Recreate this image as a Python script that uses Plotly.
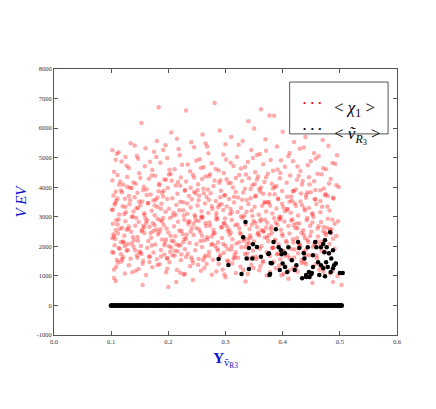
import plotly.graph_objects as go

# <chi_1> : red cloud
red_x = [
    0.183, 0.153, 0.231, 0.281, 0.340, 0.377, 0.385, 0.362,
    0.205, 0.215, 0.26, 0.29, 0.31, 0.33, 0.35, 0.37, 0.40, 0.42, 0.44, 0.47, 0.24, 0.18,
    0.102, 0.134, 0.11, 0.145, 0.16, 0.175, 0.195, 0.22, 0.245, 0.27, 0.30, 0.32, 0.345, 0.36, 0.39,
    0.41, 0.43, 0.455, 0.48, 0.495, 0.125, 0.265,
    0.105, 0.118, 0.131, 0.147, 0.159, 0.172, 0.186, 0.198, 0.211, 0.224, 0.238, 0.249, 0.262, 0.276,
    0.288, 0.301, 0.314, 0.327, 0.339, 0.352, 0.366, 0.379, 0.391, 0.404, 0.418, 0.431, 0.444, 0.458,
    0.471, 0.487,
    0.102, 0.111, 0.121, 0.128, 0.139, 0.149, 0.157, 0.166, 0.177, 0.184, 0.193, 0.204, 0.213, 0.222,
    0.231, 0.243, 0.252, 0.259, 0.271, 0.279, 0.291, 0.297, 0.309, 0.318, 0.329, 0.336, 0.347, 0.357,
    0.368, 0.374, 0.386, 0.395, 0.407, 0.413, 0.425, 0.434, 0.446, 0.455, 0.468, 0.481,
    0.104, 0.109, 0.117, 0.124, 0.133, 0.141, 0.146, 0.154, 0.162, 0.169, 0.178, 0.183, 0.191, 0.199,
    0.207, 0.216, 0.221, 0.229, 0.236, 0.245, 0.253, 0.261, 0.267, 0.274, 0.283, 0.292, 0.299, 0.306,
    0.313, 0.322, 0.331, 0.337, 0.344, 0.353, 0.361, 0.369, 0.377, 0.383, 0.392, 0.399, 0.408, 0.416,
    0.423, 0.432, 0.441, 0.449, 0.457, 0.466, 0.474, 0.489,
    0.101, 0.107, 0.114, 0.12, 0.126, 0.132, 0.138, 0.144, 0.151, 0.158, 0.164, 0.171, 0.176, 0.181,
    0.188, 0.195, 0.201, 0.208, 0.214, 0.219, 0.226, 0.233, 0.239, 0.246, 0.251, 0.258, 0.264, 0.27,
    0.277, 0.284, 0.289, 0.296, 0.302, 0.308, 0.315, 0.321, 0.327, 0.333, 0.34, 0.346, 0.351, 0.358,
    0.364, 0.371, 0.376, 0.382, 0.389, 0.394, 0.401, 0.408, 0.414, 0.421, 0.427, 0.434, 0.439, 0.446,
    0.452, 0.459, 0.466, 0.478,
    0.103, 0.108, 0.113, 0.119, 0.125, 0.13, 0.136, 0.142, 0.148, 0.153, 0.16, 0.167, 0.173, 0.179,
    0.186, 0.192, 0.197, 0.203, 0.21, 0.217, 0.223, 0.228, 0.235, 0.241, 0.248, 0.254, 0.26, 0.266,
    0.272, 0.279, 0.286, 0.293, 0.298, 0.304, 0.311, 0.317, 0.324, 0.33, 0.335, 0.342, 0.349, 0.355,
    0.362, 0.367, 0.373, 0.38, 0.385, 0.391, 0.397, 0.403, 0.41, 0.417, 0.422, 0.429, 0.436, 0.442,
    0.448, 0.454, 0.461, 0.467, 0.472, 0.479, 0.485, 0.491, 0.497,
    0.102, 0.106, 0.112, 0.117, 0.123, 0.129, 0.135, 0.14, 0.146, 0.152, 0.158, 0.165, 0.17, 0.177,
    0.182, 0.189, 0.194, 0.2, 0.206, 0.212, 0.218, 0.225, 0.231, 0.237, 0.244, 0.249, 0.256, 0.262,
    0.268, 0.275, 0.281, 0.287, 0.294, 0.3, 0.307, 0.312, 0.319, 0.325, 0.332, 0.338, 0.343, 0.35,
    0.356, 0.363, 0.369, 0.375, 0.381, 0.387, 0.393, 0.4, 0.406, 0.412, 0.419, 0.425, 0.43, 0.437,
    0.443, 0.45, 0.456, 0.462, 0.469, 0.475, 0.482, 0.488, 0.494,
    0.104, 0.11, 0.115, 0.121, 0.127, 0.134, 0.139, 0.145, 0.15, 0.156, 0.163, 0.168, 0.174, 0.18,
    0.187, 0.193, 0.198, 0.205, 0.211, 0.216, 0.222, 0.229, 0.234, 0.24, 0.247, 0.253, 0.259, 0.265,
    0.271, 0.278, 0.285, 0.29, 0.297, 0.303, 0.31, 0.316, 0.322, 0.328, 0.334, 0.341, 0.348, 0.354,
    0.36, 0.366, 0.372, 0.378, 0.384, 0.39, 0.396, 0.402, 0.409, 0.415, 0.42, 0.427, 0.433, 0.44,
    0.447, 0.453, 0.46, 0.473,
    0.105, 0.112, 0.124, 0.131, 0.143, 0.155, 0.161, 0.172, 0.185, 0.196, 0.202, 0.215, 0.227, 0.238,
    0.243, 0.257, 0.263, 0.276, 0.288, 0.295, 0.305, 0.318, 0.326, 0.339, 0.345, 0.359, 0.365, 0.378,
    0.388, 0.398, 0.405, 0.418, 0.426, 0.438, 0.445, 0.458, 0.464, 0.476, 0.483, 0.492,
    0.105, 0.108, 0.155, 0.20, 0.214, 0.243, 0.30, 0.335, 0.41, 0.452, 0.488, 0.503,
    # second pass
    0.113, 0.127, 0.141, 0.168, 0.179, 0.202, 0.218, 0.234, 0.255, 0.268,
    0.283, 0.296, 0.309, 0.323, 0.334, 0.348, 0.371, 0.383, 0.397, 0.412,
    0.426, 0.437, 0.449, 0.463, 0.476, 0.492, 0.108, 0.191, 0.257, 0.355,
    0.106, 0.143, 0.187, 0.229, 0.265, 0.311, 0.352, 0.389, 0.431, 0.472,
    0.119, 0.158, 0.196, 0.241, 0.287, 0.324, 0.366, 0.404, 0.447, 0.488,
    0.103, 0.136, 0.174, 0.217, 0.258, 0.298, 0.341, 0.378, 0.419, 0.461,
    0.128, 0.165, 0.209, 0.248, 0.281, 0.329, 0.359, 0.396, 0.438, 0.479,
    0.111, 0.151, 0.192, 0.226, 0.271, 0.305, 0.347, 0.386, 0.428, 0.469,
    0.123, 0.162, 0.201, 0.239, 0.276, 0.318, 0.355, 0.412, 0.452, 0.494,
    0.116, 0.147, 0.181, 0.221, 0.262, 0.293, 0.337, 0.371, 0.415, 0.457,
    0.133, 0.171, 0.213, 0.254, 0.289, 0.334, 0.374, 0.408, 0.443, 0.484,
    0.108, 0.139, 0.184, 0.233, 0.269, 0.302, 0.344, 0.381, 0.423, 0.466,
    0.125, 0.156, 0.198, 0.245, 0.284, 0.315, 0.362, 0.399, 0.435, 0.475,
    0.114, 0.149, 0.189, 0.227, 0.273, 0.309, 0.351, 0.392, 0.441, 0.482,
    0.131, 0.176, 0.206, 0.251, 0.291, 0.327, 0.368, 0.418, 0.456, 0.498,
    0.104, 0.142, 0.181, 0.226, 0.263, 0.302, 0.344, 0.383, 0.424, 0.466,
    0.117, 0.154, 0.193, 0.237, 0.276, 0.314, 0.357, 0.395, 0.436, 0.478,
    0.109, 0.147, 0.187, 0.219, 0.258, 0.296, 0.338, 0.376, 0.418, 0.459,
    0.122, 0.161, 0.204, 0.242, 0.282, 0.321, 0.363, 0.401, 0.443, 0.485,
    0.113, 0.138, 0.176, 0.214, 0.253, 0.291, 0.332, 0.371, 0.412, 0.452,
    0.127, 0.166, 0.209, 0.247, 0.287, 0.327, 0.369, 0.407, 0.448, 0.491,
    0.102, 0.144, 0.184, 0.223, 0.268, 0.306, 0.348, 0.388, 0.429, 0.471,
    0.131, 0.171, 0.198, 0.232, 0.273, 0.311, 0.352, 0.392, 0.433, 0.474,
    0.107, 0.151, 0.189, 0.228, 0.261, 0.299, 0.341, 0.379, 0.421, 0.463,
    0.119, 0.158, 0.201, 0.244, 0.279, 0.318, 0.359, 0.397, 0.439, 0.481,
    0.111, 0.136, 0.174, 0.211, 0.256, 0.293, 0.335, 0.373, 0.415, 0.456,
    0.124, 0.163, 0.207, 0.249, 0.284, 0.324, 0.366, 0.404, 0.445, 0.487,
    0.105, 0.146, 0.186, 0.221, 0.265, 0.304, 0.346, 0.386, 0.426, 0.468,
    0.129, 0.169, 0.196, 0.235, 0.271, 0.309, 0.354, 0.394, 0.431, 0.476,
    0.115, 0.153, 0.191, 0.231, 0.259, 0.297, 0.339, 0.381, 0.419, 0.461,
    0.121, 0.156, 0.203, 0.239, 0.277, 0.316, 0.361, 0.399, 0.441, 0.483,
    0.109, 0.137, 0.167, 0.198, 0.229, 0.252, 0.284, 0.312, 0.349, 0.372,
    0.394, 0.411, 0.433, 0.449, 0.469, 0.487, 0.118, 0.148, 0.181, 0.221,
    0.267, 0.298, 0.331, 0.361, 0.384, 0.402, 0.423, 0.441, 0.471, 0.496,
]
red_y = [
    6710, 6170, 6600, 6850, 6230, 6430, 6420, 6640,
    5850, 5640, 5780, 5920, 5700, 5560, 5990, 5620, 5880, 5530, 5700, 5600, 5520, 5560,
    5250, 5490, 5130, 5060, 5320, 5200, 5420, 5080, 5350, 5150, 5450, 5020, 5260, 5120, 5380,
    5050, 5300, 5150, 5400, 5080, 5020, 5480,
    4520, 4870, 4650, 4960, 4710, 4580, 4830, 4990, 4610, 4760, 4540, 4900, 4680, 4810,
    4570, 4940, 4720, 4630, 4850, 4510, 4780, 4920, 4600, 4690, 4880, 4550, 4740, 4970,
    4640, 4820,
    4230, 4410, 4080, 4350, 4160, 4470, 4020, 4290, 4390, 4120, 4260, 4450, 4060, 4330,
    4190, 4420, 4100, 4280, 4370, 4040, 4240, 4480, 4140, 4310, 4210, 4430, 4070, 4360,
    4180, 4460, 4010, 4300, 4150, 4400, 4250, 4090, 4340, 4200, 4440, 4130,
    3720, 3540, 3890, 3610, 3980, 3660, 3810, 3520, 3930, 3750, 3580, 3860, 3690, 3970,
    3630, 3780, 3510, 3910, 3700, 3840, 3560, 3950, 3670, 3800, 3530, 3880, 3740, 3600,
    3990, 3650, 3820, 3570, 3940, 3710, 3850, 3500, 3760, 3960, 3620, 3870, 3680, 3550,
    3920, 3790, 3640, 3830, 3590, 3900, 3730, 3620,
    3240, 3470, 3080, 3360, 3150, 3420, 3010, 3290, 3390, 3120, 3460, 3200, 3050, 3330,
    3440, 3170, 3270, 3030, 3400, 3220, 3490, 3100, 3310, 3060, 3380, 3190, 3450, 3130,
    3260, 3020, 3410, 3230, 3350, 3090, 3480, 3160, 3300, 3040, 3430, 3210, 3340, 3070,
    3370, 3180, 3490, 3110, 3280, 3000, 3320, 3250, 3140, 3460, 3040, 3390, 3210, 3300,
    3080, 3430, 3150, 3350,
    2760, 2540, 2910, 2630, 2850, 2580, 2990, 2700, 2820, 2510, 2940, 2660, 2790, 2560,
    2880, 2720, 2600, 2960, 2680, 2830, 2530, 2900, 2750, 2620, 2870, 2570, 2980, 2690,
    2810, 2550, 2930, 2640, 2780, 2520, 2890, 2710, 2610, 2970, 2740, 2590, 2860, 2650,
    2920, 2500, 2800, 2670, 2950, 2730, 2560, 2840, 2690, 2910, 2620, 2770, 2540, 2880,
    2700, 2990, 2600, 2820, 2650, 2930, 2580, 2760, 2850,
    2270, 2040, 2430, 2150, 2360, 2080, 2490, 2210, 2320, 2010, 2450, 2180, 2290, 2060,
    2400, 2230, 2120, 2470, 2190, 2340, 2030, 2420, 2260, 2110, 2380, 2070, 2480, 2200,
    2310, 2050, 2440, 2140, 2280, 2020, 2390, 2240, 2100, 2460, 2250, 2090, 2370, 2160,
    2410, 2000, 2300, 2170, 2450, 2220, 2060, 2350, 2190, 2430, 2130, 2280, 2040, 2390,
    2210, 2490, 2110, 2330, 2160, 2440, 2080, 2260, 2350,
    1780, 1540, 1920, 1630, 1850, 1580, 1990, 1700, 1820, 1510, 1940, 1660, 1790, 1560,
    1880, 1720, 1600, 1960, 1680, 1830, 1530, 1900, 1750, 1620, 1870, 1570, 1980, 1690,
    1810, 1550, 1930, 1640, 1780, 1520, 1890, 1710, 1610, 1970, 1740, 1590, 1860, 1650,
    1920, 1500, 1800, 1670, 1950, 1730, 1560, 1840, 1690, 1910, 1620, 1770, 1540, 1880,
    1700, 1990, 1600, 1820,
    1220, 1450, 1080, 1360, 1170, 1410, 1030, 1290, 1390, 1120, 1460, 1200, 1050, 1330,
    1440, 1170, 1270, 1040, 1400, 1220, 1490, 1100, 1310, 1060, 1380, 1190, 1450, 1130,
    1260, 1020, 1320, 1250, 1140, 1460, 1040, 1390, 1210, 1300, 1080, 1430,
    930, 830, 690, 620, 790, 860, 950, 810, 900, 760, 790, 690,
    # second pass
    5180, 4730, 5410, 4860, 5020, 4590, 5290, 4770, 4950, 5380,
    4620, 5110, 4830, 5440, 4680, 4990, 5230, 4560, 4910, 5160,
    4700, 5340, 4880, 5050, 4610, 4790, 4930, 5260, 4650, 5090,
    3410, 4120, 3270, 3880, 4360, 3150, 3690, 4040, 3520, 3960,
    3830, 3060, 4250, 3590, 3320, 4410, 3780, 3190, 4090, 3640,
    3240, 3970, 3550, 4180, 3010, 3720, 4300, 3380, 3860, 4460,
    4020, 3470, 3140, 3790, 4230, 3580, 3930, 4480, 3280, 3700,
    3620, 4310, 3880, 3220, 3570, 4140, 3030, 3760, 4390, 3340,
    3090, 3740, 4430, 3980, 3360, 3840, 4260, 3510, 3120, 4070,
    4190, 3300, 3650, 4050, 3800, 3420, 3170, 4340, 3690, 3910,
    3560, 4400, 3070, 3710, 4150, 3950, 3490, 3260, 3820, 4280,
    3850, 3180, 4070, 3450, 3920, 4270, 3630, 4120, 3370, 3530,
    3330, 3900, 3600, 4330, 3130, 3680, 3990, 3440, 4210, 3770,
    4080, 3520, 3810, 3040, 4440, 3260, 4110, 3590, 3740, 3210,
    3700, 3380, 4220, 3910, 3660, 3010, 3470, 3870, 3590, 4010,
    2410, 1870, 2930, 2150, 1620, 2680, 2290, 1950, 2770, 2060,
    1730, 2560, 2040, 2840, 2330, 1580, 2470, 2910, 1810, 2620,
    2880, 2190, 1660, 2530, 2970, 2080, 1760, 2380, 2240, 1690,
    2120, 2790, 2360, 1540, 2020, 2740, 2550, 1830, 2960, 2440,
    1940, 2320, 2710, 2060, 2860, 1710, 2190, 2640, 1600, 2810,
    2570, 1650, 2170, 2990, 1860, 2410, 2900, 2130, 2350, 1920,
    1810, 2960, 2480, 1720, 2230, 2570, 1640, 2810, 2070, 2510,
    2670, 2030, 1590, 2390, 2700, 2010, 2800, 1750, 2460, 2220,
    2250, 1790, 2840, 2260, 1530, 2940, 2110, 2580, 1890, 2690,
    1570, 2640, 2000, 2760, 2430, 1800, 2370, 2990, 2280, 1760,
    2740, 2100, 2520, 1850, 2180, 2650, 1980, 2300, 2870, 2050,
    2000, 2870, 1700, 2620, 2910, 2140, 2510, 1680, 2150, 2900,
    2340, 1610, 2580, 2040, 2790, 1900, 2730, 2170, 2610, 1840,
    1880, 2450, 2230, 2830, 1670, 2470, 1560, 2930, 1980, 2390,
    2590, 1740, 2960, 1640, 2360, 2780, 2250, 1940, 2720, 2160,
    2160, 2700, 1820, 2490, 2080, 1620, 2850, 2420, 1700, 2550,
    1310, 1120, 1470, 1240, 1060, 1380, 1150, 1420, 1270, 1010,
    1350, 1180, 1440, 1090, 1290, 1160, 1490, 1230, 1370, 1110,
    1400, 1050, 1200, 1330, 1480, 1070, 1260, 1390, 1140, 1000,
]

# <v~_R3> : black points above zero
black_x = [
    0.288, 0.305, 0.328, 0.335, 0.331, 0.348, 0.341, 0.337, 0.347, 0.341, 0.378, 0.375, 0.381, 0.362, 0.355,
    0.388, 0.376, 0.379, 0.377, 0.397, 0.398, 0.404, 0.400, 0.404, 0.395, 0.408, 0.421, 0.427, 0.429,
    0.438, 0.434, 0.441, 0.446, 0.453, 0.450, 0.457, 0.453, 0.462, 0.467, 0.471, 0.474, 0.477, 0.473,
    0.481, 0.483, 0.485, 0.476, 0.471, 0.479, 0.488, 0.484, 0.490, 0.493, 0.464, 0.474, 0.500, 0.505,
    0.441, 0.447, 0.451, 0.444, 0.437, 0.424, 0.416, 0.410, 0.393, 0.384, 0.488, 0.467, 0.459,
]
black_y = [
    1570, 1370, 1060, 2820, 2310, 2070, 1940, 1590, 1590, 1230, 1060, 1740, 1430, 1650, 1980,
    2580, 1770, 1440, 1030, 1870, 1730, 1770, 1420, 1300, 1200, 1130, 1200, 2150, 1940,
    1590, 920, 1030, 1130, 1300, 1060, 2150, 1700, 1460, 1360, 2080, 2210, 1970, 1800,
    1770, 2480, 1590, 1460, 1260, 1300, 1260, 1130, 1360, 1420, 1030, 990, 1100, 1100,
    960, 960, 1100, 1970, 1770, 1360, 1530, 1970, 1970, 2150, 1870, 1970, 1970,
]

# <v~_R3> : dense band at zero
zero_x = [
    0.100, 0.104, 0.109, 0.113, 0.118, 0.122, 0.127, 0.131, 0.136, 0.140, 0.145, 0.149, 0.154, 0.158,
    0.163, 0.167, 0.172, 0.176, 0.181, 0.185, 0.190, 0.194, 0.199, 0.203, 0.208, 0.212, 0.217, 0.221,
    0.226, 0.230, 0.235, 0.239, 0.244, 0.248, 0.253, 0.257, 0.262, 0.266, 0.271, 0.275, 0.280, 0.284,
    0.289, 0.293, 0.298, 0.302, 0.307, 0.311, 0.316, 0.320, 0.325, 0.329, 0.334, 0.338, 0.343, 0.347,
    0.352, 0.356, 0.361, 0.365, 0.370, 0.374, 0.379, 0.383, 0.388, 0.392, 0.397, 0.401, 0.406, 0.410,
    0.415, 0.419, 0.424, 0.428, 0.433, 0.437, 0.442, 0.446, 0.451, 0.455, 0.460, 0.464, 0.469, 0.473,
    0.478, 0.482, 0.487, 0.491, 0.496, 0.500, 0.503,
]
zero_y = [0] * len(zero_x)

x_ticks = [0.0, 0.1, 0.2, 0.3, 0.4, 0.5, 0.6]
y_ticks = [-1000, 0, 1000, 2000, 3000, 4000, 5000, 6000, 7000, 8000]

SERIF = "Liberation Serif"
BLUE = "#1010d0"

fig = go.Figure()
fig.add_trace(go.Scatter(
    x=red_x, y=red_y, mode="markers", showlegend=False,
    marker=dict(color="red", size=4.5, opacity=0.33, line=dict(width=0)),
))
fig.add_trace(go.Scatter(
    x=zero_x, y=zero_y, mode="lines+markers", showlegend=False,
    line=dict(color="black", width=4),
    marker=dict(color="black", size=5, line=dict(width=0)),
))
fig.add_trace(go.Scatter(
    x=black_x, y=black_y, mode="markers", showlegend=False,
    marker=dict(color="black", size=4.5, line=dict(width=0)),
))

axis_common = dict(
    showgrid=False, zeroline=False, showline=True, linecolor="#555555", linewidth=1,
    mirror="ticks", ticks="inside", ticklen=4, tickcolor="#555555",
    tickfont=dict(family=SERIF, size=6.5, color="#333333"),
)
fig.update_xaxes(
    range=[0.0, 0.6], tickvals=x_ticks, ticktext=[f"{v:.1f}" for v in x_ticks],
    title=dict(text="<b>Y</b><sub>ṽ<sub>R3</sub></sub>",
               font=dict(family=SERIF, size=15, color=BLUE), standoff=8),
    **axis_common,
)
fig.update_yaxes(
    range=[-1000, 8000], tickvals=y_ticks, ticktext=[str(v) for v in y_ticks],
    title=dict(text="<i>V EV</i>",
               font=dict(family=SERIF, size=15, color=BLUE), standoff=6),
    **axis_common,
)

# legend box drawn by hand to get matplotlib's three scatter points
fig.add_shape(type="rect", xref="paper", yref="paper", x0=0.687, x1=0.974, y0=0.756, y1=0.951,
              line=dict(color="#555555", width=1), fillcolor="white")
fig.add_annotation(xref="paper", yref="paper", x=0.72, y=0.898, xanchor="left", showarrow=False,
                   text="<span style='color:red'>•  •  •</span>", font=dict(family=SERIF, size=9))
fig.add_annotation(xref="paper", yref="paper", x=0.72, y=0.80, xanchor="left", showarrow=False,
                   text="<span style='color:black'>•  •  •</span>", font=dict(family=SERIF, size=9))
fig.add_annotation(xref="paper", yref="paper", x=0.81, y=0.898, xanchor="left", showarrow=False,
                   text="&lt; <i>χ</i><sub>1</sub> &gt;", font=dict(family=SERIF, size=17, color="black"))
fig.add_annotation(xref="paper", yref="paper", x=0.81, y=0.80, xanchor="left", showarrow=False,
                   text="&lt; <i>ṽ</i><sub><i>R</i><sub>3</sub></sub> &gt;",
                   font=dict(family=SERIF, size=17, color="black"))

# page body has an 8px margin, so the figure is sized to fit inside the window
fig.update_layout(
    width=428, height=401,
    margin=dict(l=41, r=39, t=61, b=74),
    paper_bgcolor="white", plot_bgcolor="white",
)
fig.write_html("out.html")
